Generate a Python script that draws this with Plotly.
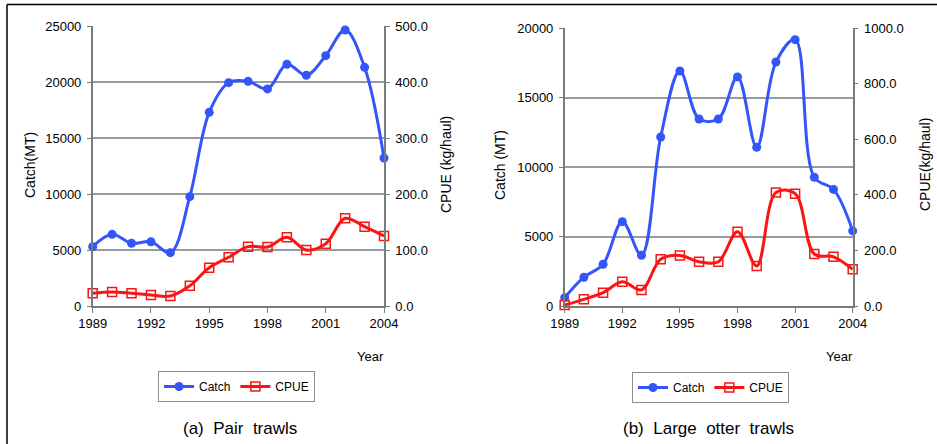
import plotly.graph_objects as go

years = list(range(1989, 2005))

# (a) Pair trawls
pair_catch = [5300, 6400, 5600, 5740, 4760, 9760, 17290, 19940, 20060, 19380,
              21580, 20600, 22350, 24640, 21310, 13210]
pair_cpue = [22.7, 25.0, 22.7, 19.6, 17.9, 36.3, 68.4, 87.0, 106.0, 105.4,
             122.6, 100.0, 111.3, 156.6, 141.6, 125.0]

# (b) Large otter trawls
otter_catch = [600, 2070, 3000, 6070, 3650, 12160, 16910, 13450, 13450, 16480,
               11420, 17550, 19160, 9260, 8390, 5400]
otter_cpue = [4, 24, 48, 87, 58, 168, 182, 159, 159, 267,
              144, 408, 404, 187, 177, 132]

x_ticks = [1989, 1992, 1995, 1998, 2001, 2004]

BLUE = "rgb(51,85,250)"
RED = "rgb(250,20,20)"
GRID = "rgb(150,155,155)"
AXIS = "rgb(115,125,125)"
FONT = "Liberation Sans, Arial, sans-serif"

W, H = 937, 444


def px_x(p):
    return p / W


def px_y(p):
    return 1 - p / H


fig = go.Figure()


def add_pair(catch, cpue, xa, ya_left, ya_right, legend):
    fig.add_trace(go.Scatter(
        x=years, y=catch, name="Catch", mode="lines+markers",
        line=dict(color=BLUE, width=3, shape="spline", smoothing=1.0),
        marker=dict(symbol="circle", size=9, color=BLUE),
        xaxis=xa, yaxis=ya_left, legend=legend, cliponaxis=False))
    fig.add_trace(go.Scatter(
        x=years, y=cpue, name="CPUE", mode="lines+markers",
        line=dict(color=RED, width=3, shape="spline", smoothing=1.0),
        marker=dict(symbol="square-open", size=9, color=RED,
                    line=dict(width=1.5, color=RED)),
        xaxis=xa, yaxis=ya_right, legend=legend, cliponaxis=False))


add_pair(pair_catch, pair_cpue, "x", "y", "y2", "legend")
add_pair(otter_catch, otter_cpue, "x2", "y3", "y4", "legend2")

tickfont = dict(family=FONT, size=13, color="black")

xcommon = dict(range=[1989, 2004], tickvals=x_ticks, showgrid=False,
               showline=True, linecolor=AXIS, linewidth=1.5, ticks="outside",
               ticklen=5, tickcolor=AXIS, tickfont=tickfont, zeroline=False,
               automargin=False)
ycommon = dict(showline=True, linecolor=AXIS, linewidth=1.5, ticks="outside",
               ticklen=4, tickcolor=AXIS, tickfont=tickfont, zeroline=False,
               automargin=False, ticklabelstandoff=3)

left_dom = [px_x(92.7), px_x(384)]
right_dom = [px_x(564.7), px_x(852.7)]

legend_common = dict(orientation="h", xanchor="left", yanchor="top",
                     bordercolor="rgb(140,140,140)", borderwidth=1,
                     font=dict(family=FONT, size=12), itemwidth=30,
                     tracegroupgap=0)

fig.update_layout(
    width=W, height=H,
    margin=dict(l=0, r=0, t=0, b=0, autoexpand=False),
    paper_bgcolor="white", plot_bgcolor="white",
    font=dict(family=FONT, color="black"),
    xaxis=dict(domain=left_dom, anchor="y", **xcommon),
    yaxis=dict(domain=[px_y(306), px_y(26)], anchor="x", range=[0, 25000],
               dtick=5000, tickformat="d", showgrid=True, gridcolor=GRID,
               gridwidth=1.5, **ycommon),
    yaxis2=dict(overlaying="y", side="right", anchor="x", range=[0, 500],
                dtick=100, tickformat=".1f", showgrid=False, **ycommon),
    xaxis2=dict(domain=right_dom, anchor="y3", **xcommon),
    yaxis3=dict(domain=[px_y(306), px_y(28)], anchor="x2", range=[0, 20000],
                dtick=5000, tickformat="d", showgrid=True, gridcolor=GRID,
                gridwidth=1.5, **ycommon),
    yaxis4=dict(overlaying="y3", side="right", anchor="x2", range=[0, 1000],
                dtick=200, tickformat=".1f", showgrid=False, **ycommon),
    legend=dict(x=px_x(158), y=px_y(371), **legend_common),
    legend2=dict(x=px_x(632), y=px_y(372), **legend_common),
    showlegend=True,
)

ann = [
    dict(text="Catch(MT)", x=px_x(30), y=px_y(165), textangle=-90, size=14),
    dict(text="CPUE (kg/haul)", x=px_x(446), y=px_y(165), textangle=-90, size=14),
    dict(text="Catch (MT)", x=px_x(500), y=px_y(165), textangle=-90, size=14),
    dict(text="CPUE(kg/haul)", x=px_x(925), y=px_y(165), textangle=-90, size=14),
    dict(text="Year", x=px_x(370), y=px_y(356), textangle=0, size=13),
    dict(text="Year", x=px_x(839), y=px_y(356), textangle=0, size=13),
    dict(text="(a)  Pair  trawls", x=px_x(240), y=px_y(428), textangle=0, size=17),
    dict(text="(b)  Large  otter  trawls", x=px_x(708), y=px_y(428), textangle=0, size=17),
]
for a in ann:
    fig.add_annotation(text=a["text"], x=a["x"], y=a["y"], xref="paper",
                       yref="paper", showarrow=False, textangle=a["textangle"],
                       xanchor="center", yanchor="middle",
                       font=dict(family=FONT, size=a["size"], color="black"))

# outer frame (top and left edges)
fig.add_shape(type="line", xref="paper", yref="paper", x0=px_x(7), x1=1,
              y0=px_y(4.5), y1=px_y(4.5), line=dict(color="black", width=1.5))
fig.add_shape(type="line", xref="paper", yref="paper", x0=px_x(7), x1=px_x(7),
              y0=0, y1=px_y(4.5), line=dict(color="black", width=1.5))

fig.write_html("out.html")
